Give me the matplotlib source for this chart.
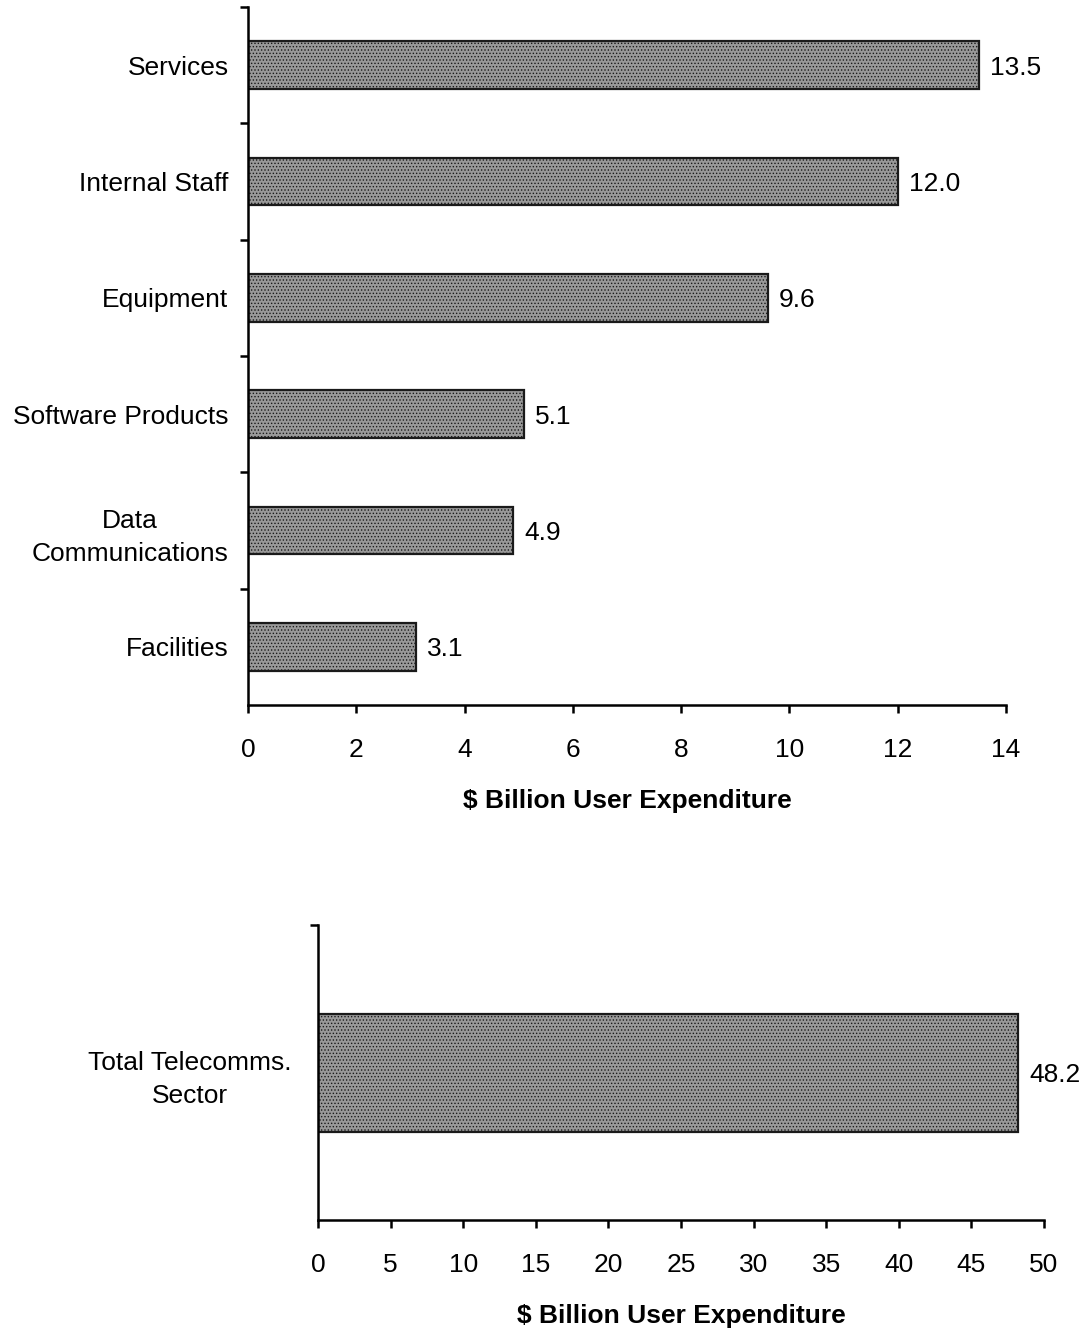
import matplotlib.pyplot as plt
import numpy as np

# user expenditure by category, $ billion
categories = ['Services', 'Internal Staff', 'Equipment', 'Software Products',
              'Data\nCommunications', 'Facilities']
values = [13.5, 12.0, 9.6, 5.1, 4.9, 3.1]

total_label = ['Total Telecomms.\nSector']
total_value = [48.2]

plt.rcParams['font.family'] = ['Liberation Sans', 'DejaVu Sans']
plt.rcParams['hatch.linewidth'] = 0.6
FS = 19
BAR = '#999999'
EDGE = '#1a1a1a'


def style_axes(ax, xmax, step, n, ypad=14):
    for s in ('top', 'right'):
        ax.spines[s].set_visible(False)
    for s in ('left', 'bottom'):
        ax.spines[s].set_linewidth(1.8)
    ax.set_xlim(0, xmax)
    ax.set_xticks(np.arange(0, xmax + step / 2, step))
    ax.tick_params(axis='x', direction='out', length=6, width=1.8,
                   labelsize=FS, pad=18)
    ax.set_ylim(n - 0.5, -0.5)
    ax.set_yticks(np.arange(n))
    ax.set_yticks(np.arange(-0.5, n - 0.5), minor=True)
    ax.tick_params(axis='y', which='major', length=0, labelsize=FS, pad=ypad)
    ax.tick_params(axis='y', which='minor', direction='out', length=6, width=1.8)
    ax.set_xlabel('$ Billion User Expenditure', fontsize=FS, fontweight='bold',
                  labelpad=19)


def draw_bars(ax, vals):
    ax.barh(range(len(vals)), vals, height=0.41 if len(vals) > 1 else 0.4,
            color=BAR, edgecolor=EDGE, linewidth=1.6, hatch='.....')
    for i, v in enumerate(vals):
        ax.annotate(f'{v:.1f}', (v, i), xytext=(8, 0), textcoords='offset points',
                    va='center_baseline', ha='left', fontsize=FS)


fig = plt.figure(figsize=(10.86, 13.31), dpi=100)

ax1 = fig.add_axes([0.2284, 0.4703, 0.698, 0.5244])
draw_bars(ax1, values)
ax1.set_yticklabels(categories, multialignment='center', linespacing=1.45)
style_axes(ax1, 14, 2, len(values))

ax2 = fig.add_axes([0.2928, 0.0834, 0.6685, 0.2216])
draw_bars(ax2, total_value)
ax2.set_yticklabels(total_label, multialignment='center', linespacing=1.45)
style_axes(ax2, 50, 5, len(total_value), ypad=19)

fig.savefig('out.png', dpi=100)
